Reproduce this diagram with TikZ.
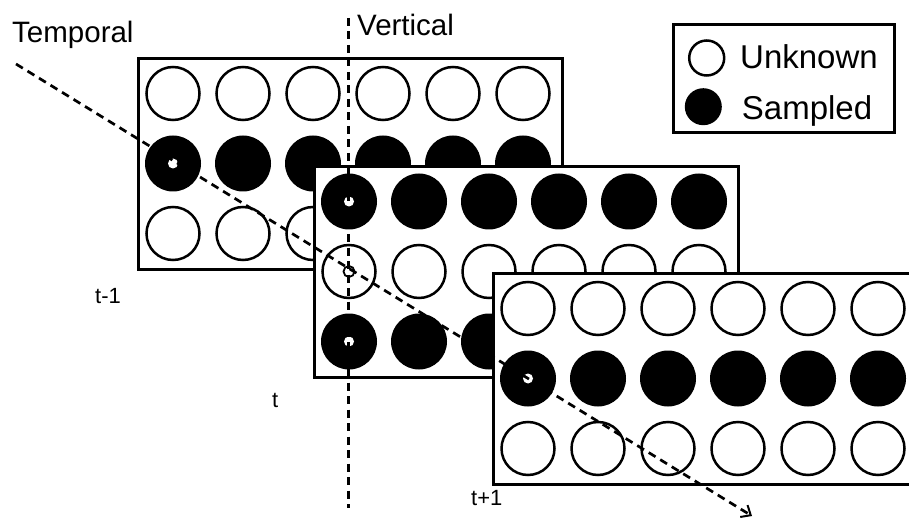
\documentclass[tikz,border=0pt]{standalone}
\usepackage{fontspec}
\setmainfont{Liberation Sans}
\usetikzlibrary{arrows.meta}
\begin{document}
\begin{tikzpicture}[x=1pt,y=-1pt,
  frame/.style={draw=black,fill=white,line width=2.7pt,minimum width=424pt,
    minimum height=211pt,inner sep=0pt,anchor=north west},
  empty/.style={circle,draw=black,fill=white,line width=2.5pt,minimum size=53pt,inner sep=0pt},
  full/.style={circle,fill=black,minimum size=56pt,inner sep=0pt},
  hole/.style={circle,fill=white,minimum size=10pt,inner sep=0pt},
  ring/.style={circle,draw=black,line width=1.8pt,minimum size=11pt,inner sep=0pt},
  guide/.style={line width=2.7pt,dash pattern=on 8pt off 5.5pt},
  big/.style={inner sep=0pt,anchor=base west,font=\fontsize{29.5}{29.5}\selectfont},
  small/.style={inner sep=0pt,anchor=base west,font=\fontsize{22}{22}\selectfont},
  legtext/.style={inner sep=0pt,anchor=base west,font=\fontsize{33}{33}\selectfont}]
\useasboundingbox (0,0) rectangle (909,521);

% three frames, each a 3x6 grid of discs; rows listed top to bottom
\foreach \p/\x/\y/\ra/\rb/\rc in {1/137/57/empty/full/empty,
                                  2/313/165/full/empty/full,
                                  3/492/272/empty/full/empty}{
  \node[frame] (p\p) at (\x,\y) {};
  \foreach \c in {1,...,6}{
    \node[\ra] (p\p-1-\c) at (\x+36+70*\c-70,\y+36.5) {};
    \node[\rb] (p\p-2-\c) at (\x+36+70*\c-70,\y+106.5) {};
    \node[\rc] (p\p-3-\c) at (\x+36+70*\c-70,\y+176.5) {};
  }
}

% reference positions along the two neighbourhoods
\node[hole] (h1) at (p1-2-1) {};
\node[hole] (h2) at (p2-1-1) {};
\node[ring] (h3) at (p2-2-1) {};
\node[hole] (h4) at (p2-3-1) {};
\node[hole] (h5) at (p3-2-1) {};

% vertical and temporal guides
\coordinate (vtop) at (348.7,18);
\coordinate (vbot) at (348.7,508);
\draw[guide] (vtop) -- (vbot);
\coordinate (tstart) at (16,64);
\coordinate (tend) at (752,516);
\draw[guide,-{Straight Barb[length=8pt,width=14pt,line width=2pt]}] (tstart) -- (tend);

% labels
\node[big] (ltemp) at (12,43) {Temporal};
\node[big] (lvert) at (357,36) {Vertical};
\node[small] (lt1) at (95,303) {t-1};
\node[small] (lt2) at (272,407) {t};
\node[small] (lt3) at (471,505) {t+1};

% legend
\node[draw=black,line width=2.7pt,minimum width=221pt,minimum height=108pt,
  inner sep=0pt,anchor=north west] (legend) at (672,23) {};
\node[circle,draw=black,line width=2.5pt,minimum size=35pt,inner sep=0pt] (kunk) at (706.7,58) {};
\node[circle,fill=black,minimum size=37pt,inner sep=0pt] (ksam) at (703.3,106.7) {};
\node[legtext] (tunk) at (740,68.3) {Unknown};
\node[legtext] (tsam) at (741.7,120) {Sampled};
\end{tikzpicture}
\end{document}
